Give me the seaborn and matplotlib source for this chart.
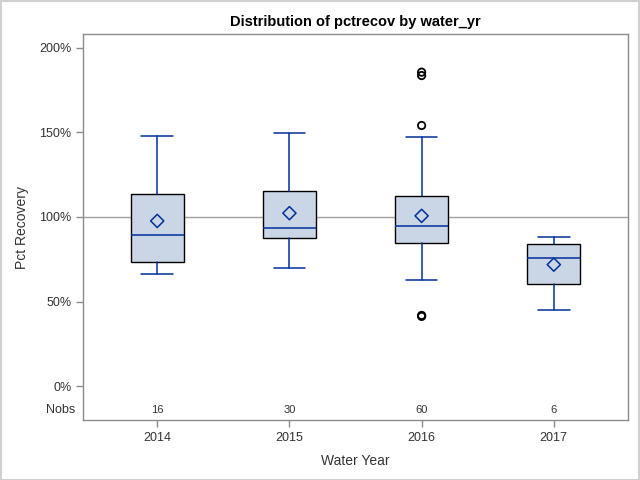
import numpy as np
import pandas as pd
import matplotlib
matplotlib.use('Agg')
import matplotlib.pyplot as plt
import seaborn as sns
from matplotlib.ticker import FuncFormatter

# box statistics (pct recovery, %)
years = ['2014', '2015', '2016', '2017']
whislo = [66.0, 70.0, 62.7, 45.1]
q1 = [73.4, 87.5, 84.5, 60.4]
med = [89.2, 93.3, 94.7, 75.7]
q3 = [113.3, 115.1, 112.2, 83.9]
whishi = [147.6, 149.8, 146.9, 88.0]
means = [97.6, 102.2, 100.6, 71.8]
nobs = [16, 30, 60, 6]
outlier_year = ['2016', '2016', '2016', '2016', '2016']
outlier_val = [185.5, 183.5, 154.0, 41.8, 41.2]

line_col = '#00309A'
fill_col = '#CAD5E5'
frame_col = '#8C8C8C'

sns.set_theme(style='white')
plt.rcParams['font.family'] = ['Liberation Sans', 'DejaVu Sans']

fig = plt.figure(figsize=(6.4, 4.8), dpi=100)
ax = fig.add_axes([0.130, 0.125, 0.851, 0.804])

stats = []
for i, y in enumerate(years):
    fl = [v for yy, v in zip(outlier_year, outlier_val) if yy == y]
    stats.append({'label': y, 'whislo': whislo[i], 'q1': q1[i], 'med': med[i],
                  'q3': q3[i], 'whishi': whishi[i], 'fliers': fl})

# reference line at 100%
ax.axhline(100, color='#A0A0A0', lw=1, zorder=1)

ax.bxp(stats, positions=range(len(years)), widths=0.4, patch_artist=True,
       showfliers=False,
       boxprops=dict(facecolor=fill_col, edgecolor='black', lw=1.0),
       medianprops=dict(color=line_col, lw=1.1),
       whiskerprops=dict(color=line_col, lw=1.1),
       capprops=dict(color=line_col, lw=1.1),
       capwidths=0.24, zorder=2)

df_mean = pd.DataFrame({'year': years, 'mean': means})
df_out = pd.DataFrame({'year': outlier_year, 'val': outlier_val})
pos = {y: i for i, y in enumerate(years)}
sns.scatterplot(x=df_mean['year'].map(pos), y=df_mean['mean'], ax=ax, marker='D',
                s=45, facecolor='none', edgecolor=line_col, linewidth=1.1, zorder=4)
sns.scatterplot(x=df_out['year'].map(pos), y=df_out['val'], ax=ax, marker='o',
                s=28, facecolor='none', edgecolor='black', linewidth=1.3, zorder=4)

ax.set_xlim(-0.56, 3.56)
ax.set_ylim(-20, 208)
ax.set_yticks([0, 50, 100, 150, 200])
ax.yaxis.set_major_formatter(FuncFormatter(lambda v, p: f'{v:.0f}%'))
ax.set_xticks(range(len(years)))
ax.set_xticklabels(years)

for i, n in enumerate(nobs):
    ax.text(i, -14, str(n), ha='center', va='center', fontsize=8, color='#333333')
ax.text(-0.015, -14, 'Nobs', transform=ax.get_yaxis_transform(), ha='right',
        va='center', fontsize=9, color='#333333')

for s in ax.spines.values():
    s.set_color(frame_col)
    s.set_linewidth(1)
ax.tick_params(axis='both', direction='out', length=5, width=1, color=frame_col,
               labelsize=9, labelcolor='#333333', left=True, bottom=True)
ax.set_xlabel('Water Year', fontsize=10, color='#333333', labelpad=7)
ax.set_ylabel('Pct Recovery', fontsize=10, color='#333333', labelpad=7)
ax.set_title('Distribution of pctrecov by water_yr', fontsize=10.5,
             fontweight='bold', color='black', pad=6)

fig.patches.append(plt.Rectangle((0.001, 0.001), 0.997, 0.997, transform=fig.transFigure,
                                 fill=False, edgecolor='#D0D0D0', lw=1.5))

fig.savefig('out.png', dpi=100)
